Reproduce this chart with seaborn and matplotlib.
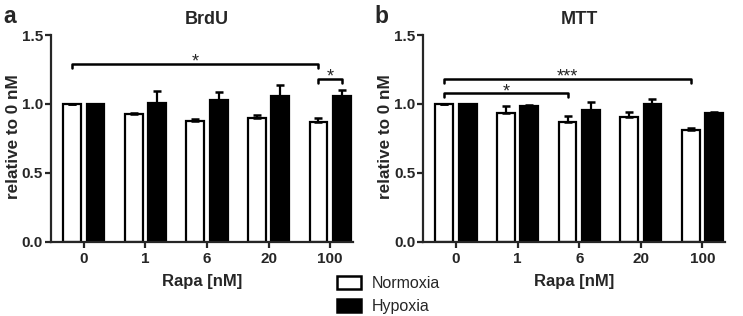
import numpy as np
import pandas as pd
import seaborn as sns
import matplotlib.pyplot as plt
from matplotlib.patches import Patch

# data
doses = ['0', '1', '6', '20', '100']
conditions = ['Normoxia', 'Hypoxia']

brdu_norm = [1.00, 0.925, 0.875, 0.899, 0.870]
brdu_norm_err = [0.0, 0.012, 0.019, 0.021, 0.030]
brdu_hyp = [1.00, 1.007, 1.029, 1.055, 1.060]
brdu_hyp_err = [0.0, 0.089, 0.060, 0.085, 0.044]

mtt_norm = [1.00, 0.937, 0.870, 0.904, 0.814]
mtt_norm_err = [0.0, 0.051, 0.041, 0.038, 0.013]
mtt_hyp = [1.00, 0.985, 0.959, 1.000, 0.937]
mtt_hyp_err = [0.0, 0.006, 0.058, 0.036, 0.008]

sns.set_style('ticks')
plt.rcParams['font.family'] = ['Liberation Sans', 'DejaVu Sans']
plt.rcParams['font.weight'] = 'bold'

fig = plt.figure(figsize=(7.43, 3.16), dpi=100)
ax_a = fig.add_axes([0.068, 0.235, 0.407, 0.654])
ax_b = fig.add_axes([0.569, 0.235, 0.407, 0.654])


def make_df(norm, norm_err, hyp, hyp_err):
    return pd.DataFrame({
        'dose': doses * 2,
        'cond': [conditions[0]] * 5 + [conditions[1]] * 5,
        'value': list(norm) + list(hyp),
        'err': list(norm_err) + list(hyp_err),
    })


def draw_panel(ax, df, title):
    sns.barplot(data=df, x='dose', y='value', hue='cond', order=doses,
                hue_order=conditions, palette=['white', 'black'],
                edgecolor='black', linewidth=1.6, width=0.76, gap=0.24,
                errorbar=None, legend=False, ax=ax)
    # upper error bars only
    bars = [p for p in ax.patches if p.get_height() > 0]
    for cond in conditions:
        sub = df[df['cond'] == cond]
        i0 = conditions.index(cond) * len(doses)
        xs = [bars[i0 + k].get_x() + bars[i0 + k].get_width() / 2 for k in range(len(doses))]
        ys = sub['value'].values
        er = sub['err'].values
        ax.errorbar(xs, ys, yerr=[np.zeros_like(er), er], fmt='none',
                    ecolor='black', elinewidth=1.6, capsize=3.2, capthick=1.8)
    ax.set_ylim(0, 1.5)
    ax.set_xlim(-0.54, 4.37)
    ax.set_yticks([0, 0.5, 1.0, 1.5])
    ax.set_yticklabels(['0.0', '0.5', '1.0', '1.5'])
    ax.tick_params(labelsize=11, width=1.6, length=4)
    ax.tick_params(axis='y', pad=1.5)
    for lab in ax.get_xticklabels() + ax.get_yticklabels():
        lab.set_fontweight('bold')
    ax.set_xlabel('Rapa [nM]', fontsize=12, fontweight='bold', labelpad=6)
    ax.set_ylabel('relative to 0 nM', fontsize=12.3, fontweight='bold')
    ax.yaxis.set_label_coords(-0.098, 0.51)
    ax.set_title(title, fontsize=13, fontweight='bold', pad=8, x=0.517)
    for s in ['left', 'bottom']:
        ax.spines[s].set_linewidth(1.6)
    sns.despine(ax=ax)
    return bars


def bracket(ax, x1, x2, y, label, drop=0.03):
    ax.plot([x1, x1, x2, x2], [y - drop, y, y, y - drop], color='black', lw=1.8,
            solid_capstyle='round', solid_joinstyle='round')
    ax.text((x1 + x2) / 2, y - 0.02, label, ha='center', va='baseline',
            fontsize=13, fontweight='normal')


df_a = make_df(brdu_norm, brdu_norm_err, brdu_hyp, brdu_hyp_err)
df_b = make_df(mtt_norm, mtt_norm_err, mtt_hyp, mtt_hyp_err)

bars_a = draw_panel(ax_a, df_a, 'BrdU')
bars_b = draw_panel(ax_b, df_b, 'MTT')


def center(bars, k):
    return bars[k].get_x() + bars[k].get_width() / 2


bracket(ax_a, center(bars_a, 0), center(bars_a, 4), 1.29, '*')
bracket(ax_a, center(bars_a, 4), center(bars_a, 9), 1.18, '*')
bracket(ax_b, center(bars_b, 0), center(bars_b, 4), 1.18, '***')
bracket(ax_b, center(bars_b, 0), center(bars_b, 2), 1.077, '*')

fig.text(0.004, 0.985, 'a', fontsize=16.5, fontweight='bold', va='top')
fig.text(0.504, 0.985, 'b', fontsize=16.5, fontweight='bold', va='top')

handles = [Patch(facecolor='white', edgecolor='black', linewidth=1.8),
           Patch(facecolor='black', edgecolor='black', linewidth=1.8)]
leg = fig.legend(handles, conditions, loc='upper left',
                 bbox_to_anchor=(0.453, 0.128), frameon=False,
                 prop={'size': 11.5, 'weight': 'normal'}, handlelength=1.5,
                 handleheight=0.9, handletextpad=0.7, labelspacing=0.5,
                 borderaxespad=0, borderpad=0)

fig.savefig('out.png', dpi=100)
